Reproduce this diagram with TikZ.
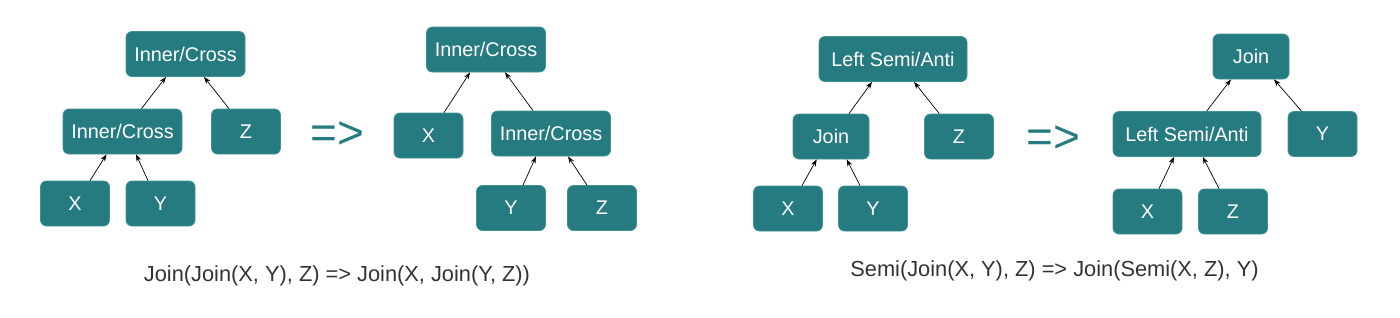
\documentclass[tikz,border=0pt]{standalone}
\usepackage{fontspec}
\setmainfont{Liberation Sans}
\usetikzlibrary{arrows.meta}
\definecolor{jnTeal}{HTML}{267B80}
\definecolor{jnEdge}{HTML}{3F9296}
\definecolor{jnInk}{HTML}{333333}
\tikzset{
  % Operator box (teal)
  opbox/.style={rectangle,rounded corners=6pt,
    minimum width=119pt,minimum height=45pt,inner sep=0pt,
    draw=jnEdge,line width=0.8pt,fill=jnTeal,
    font=\fontsize{19.8}{22}\selectfont,text=white},
  % Leaf box (relation)
  leafbox/.style={opbox,minimum width=69pt},
  % Rewrite sign
  rwsign/.style={anchor=base,inner sep=0pt,
    font=\fontsize{46}{46}\selectfont,text=jnTeal},
  % Rule caption
  rulelbl/.style={anchor=base,inner sep=0pt,
    font=\fontsize{21.8}{24}\selectfont,text=jnInk},
  % Arrows
  arr/.style={-{Stealth[length=7pt,width=5pt]},line width=0.7pt,color=black},
}

\begin{document}
\begin{tikzpicture}[x=1pt,y=-1pt]
  \useasboundingbox (0,0) rectangle (1400,317);

  % Join(Join(X, Y), Z)
  \node[opbox] (top1) at (185.5,54) {Inner/Cross};
  \node[opbox] (mid1) at (122.5,131.5) {Inner/Cross};
  \node[leafbox] (z1) at (246,131.5) {Z};
  \node[leafbox] (x1) at (75,203.5) {X};
  \node[leafbox] (y1) at (160.5,203.5) {Y};

  \draw[arr] ([xshift=15pt]x1.north) -- ([xshift=-16pt]mid1.south);
  \draw[arr] ([xshift=-12.5pt]y1.north) -- ([xshift=13.5pt]mid1.south);
  \draw[arr] ([xshift=19pt]mid1.north) -- ([xshift=-19.5pt]top1.south);
  \draw[arr] ([xshift=-17pt]z1.north) -- ([xshift=18.5pt]top1.south);

  \node[rwsign] (rw1) at (337.5,148) {=>};

  % Join(X, Join(Y, Z))
  \node[opbox] (top2) at (486,49.5) {Inner/Cross};
  \node[leafbox] (x2) at (428.5,135.5) {X};
  \node[opbox] (mid2) at (551,133.5) {Inner/Cross};
  \node[leafbox] (y2) at (511,208) {Y};
  \node[leafbox] (z2) at (602,208) {Z};

  \draw[arr] ([xshift=15.5pt]x2.north) -- ([xshift=-16pt]top2.south);
  \draw[arr] ([xshift=-18pt]mid2.north) -- ([xshift=19pt]top2.south);
  \draw[arr] ([xshift=12pt]y2.north) -- ([xshift=-15pt]mid2.south);
  \draw[arr] ([xshift=-15pt]z2.north) -- ([xshift=17pt]mid2.south);

  \node[rulelbl] (rule1) at (337,281.7)
    {Join(Join(X, Y), Z) => Join(X, Join(Y, Z))};

  % Semi(Join(X, Y), Z)
  \node[opbox,minimum width=148pt] (top3) at (893,59) {Left Semi/Anti};
  \node[opbox,minimum width=76pt] (join3) at (831,136.5) {Join};
  \node[leafbox] (z3) at (959,136.5) {Z};
  \node[leafbox] (x3) at (788,208.5) {X};
  \node[leafbox] (y3) at (873,208.5) {Y};

  \draw[arr] ([xshift=18pt]join3.north) -- ([xshift=-21pt]top3.south);
  \draw[arr] ([xshift=-19.7pt]z3.north) -- ([xshift=21pt]top3.south);
  \draw[arr] ([xshift=14pt]x3.north) -- ([xshift=-14.3pt]join3.south);
  \draw[arr] ([xshift=-13pt]y3.north) -- ([xshift=15.7pt]join3.south);

  \node[rwsign] (rw2) at (1053,152) {=>};

  % Join(Semi(X, Z), Y)
  \node[opbox,minimum width=76pt] (top4) at (1251,56.5) {Join};
  \node[opbox,minimum width=148pt] (lsa4) at (1187,134) {Left Semi/Anti};
  \node[leafbox] (y4) at (1322.5,134) {Y};
  \node[leafbox] (x4) at (1147.5,211.5) {X};
  \node[leafbox] (z4) at (1233,211.5) {Z};

  \draw[arr] ([xshift=19.7pt]lsa4.north) -- ([xshift=-20pt]top4.south);
  \draw[arr] ([xshift=-21pt]y4.north) -- ([xshift=23pt]top4.south);
  \draw[arr] ([xshift=11.5pt]x4.north) -- ([xshift=-13pt]lsa4.south);
  \draw[arr] ([xshift=-14pt]z4.north) -- ([xshift=15.7pt]lsa4.south);

  \node[rulelbl] (rule2) at (1054.5,276.7)
    {Semi(Join(X, Y), Z) => Join(Semi(X, Z), Y)};
\end{tikzpicture}
\end{document}
